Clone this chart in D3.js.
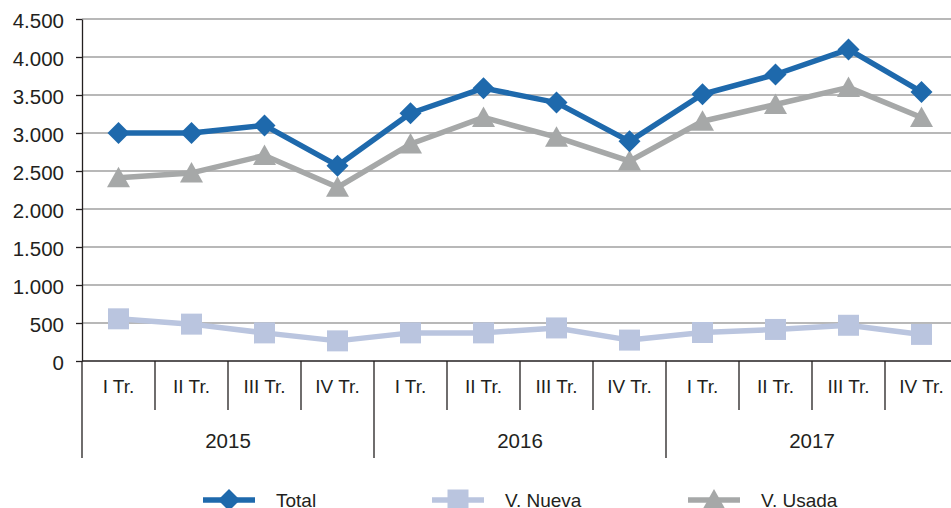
<!DOCTYPE html>
<html>
<head>
<meta charset="utf-8">
<script src="https://cdn.jsdelivr.net/npm/d3@7"></script>
<style>
  body { margin: 0; background: #fff; }
  svg text { font-family: "Liberation Sans", Arial, sans-serif; fill: #231f20; }
</style>
</head>
<body>
<svg id="chart" width="951" height="508"></svg>
<script>
const years = ["2015", "2016", "2017"];
const quarters = ["I Tr.", "II Tr.", "III Tr.", "IV Tr."];
const total = [3000, 3000, 3100, 2570, 3260, 3590, 3400, 2890, 3510, 3770, 4100, 3540];
const nueva = [555, 485, 370, 265, 370, 370, 435, 275, 375, 415, 470, 350];
const usada = [2410, 2475, 2705, 2285, 2855, 3205, 2945, 2630, 3155, 3375, 3600, 3205];
const yTicks = [0, 500, 1000, 1500, 2000, 2500, 3000, 3500, 4000, 4500];

const svg = d3.select("#chart");
const plotLeft = 82, plotRight = 958, plotTop = 19, plotBottom = 361;

const keys = [];
years.forEach(yr => quarters.forEach(q => keys.push(yr + "|" + q)));

const x = d3.scaleBand().domain(keys).range([plotLeft, plotRight]);
const y = d3.scaleLinear().domain([0, 4500]).range([plotBottom, plotTop]);
const fmt = v => d3.format(",")(v).replace(/,/g, ".");

// grid
svg.append("g")
  .selectAll("line")
  .data(yTicks.filter(d => d > 0))
  .enter()
  .append("line")
  .attr("x1", plotLeft)
  .attr("x2", 951)
  .attr("y1", d => y(d))
  .attr("y2", d => y(d))
  .attr("stroke", "#a0a0a0")
  .attr("stroke-width", 1.5);

// y axis
const yAxis = svg.append("g")
  .attr("transform", `translate(${plotLeft},0)`)
  .call(d3.axisLeft(y).tickValues(yTicks).tickFormat(fmt).tickSize(6).tickSizeOuter(0));
yAxis.select(".domain").attr("stroke", "#231f20").attr("stroke-width", 1.3);
yAxis.selectAll(".tick line").attr("stroke", "#231f20").attr("stroke-width", 1.3);
yAxis.selectAll(".tick text")
  .attr("x", -18)
  .attr("dy", "0.4em")
  .style("font-size", "20.5px")
  .style("font-family", "Liberation Sans, Arial, sans-serif")
  .attr("fill", "#231f20");

// x axis baseline
svg.append("line")
  .attr("x1", plotLeft).attr("x2", 951)
  .attr("y1", plotBottom).attr("y2", plotBottom)
  .attr("stroke", "#231f20").attr("stroke-width", 1.3);

// quarter separators
svg.append("g")
  .selectAll("line")
  .data(keys)
  .enter()
  .append("line")
  .attr("x1", d => x(d))
  .attr("x2", d => x(d))
  .attr("y1", plotBottom)
  .attr("y2", (d, i) => i % 4 === 0 ? 458 : 410)
  .attr("stroke", "#231f20")
  .attr("stroke-width", 1.3);

// quarter labels
svg.append("g")
  .selectAll("text")
  .data(keys)
  .enter()
  .append("text")
  .attr("x", d => x(d) + x.bandwidth() / 2)
  .attr("y", 393)
  .attr("text-anchor", "middle")
  .style("font-size", "19px")
  .text(d => d.split("|")[1]);

// year labels
svg.append("g")
  .selectAll("text")
  .data(years)
  .enter()
  .append("text")
  .attr("x", d => x(d + "|" + quarters[0]) + x.bandwidth() * 2)
  .attr("y", 448)
  .attr("text-anchor", "middle")
  .style("font-size", "20.5px")
  .text(d => d);

const series = [
  { name: "Total", values: total, color: "#1e69ac" },
  { name: "V. Nueva", values: nueva, color: "#bac5df" },
  { name: "V. Usada", values: usada, color: "#a6a8a8" }
];

const cx = i => x(keys[i]) + x.bandwidth() / 2;
const line = d3.line().x((d, i) => cx(i)).y(d => y(d));

function markerPath(sr) {
  if (sr.name === "Total") return "M0,-11L11,0L0,11L-11,0Z";
  if (sr.name === "V. Nueva") return "M-10.5,-10.5H10.5V10.5H-10.5Z";
  return "M0,-11L11.5,9.5H-11.5Z";
}

[series[1], series[2], series[0]].forEach(sr => {
  svg.append("path")
    .datum(sr.values)
    .attr("d", line)
    .attr("fill", "none")
    .attr("stroke", sr.color)
    .attr("stroke-width", 5.5)
    .attr("stroke-linejoin", "round");
  svg.append("g")
    .selectAll("path")
    .data(sr.values)
    .enter()
    .append("path")
    .attr("transform", (d, i) => `translate(${cx(i)},${y(d)})`)
    .attr("d", markerPath(sr))
    .attr("fill", sr.color);
});

// legend
const legendX = [203, 432, 688];
series.forEach((sr, i) => {
  const g = svg.append("g").attr("transform", `translate(${legendX[i]},500)`);
  g.append("line")
    .attr("x1", 0).attr("x2", 52)
    .attr("stroke", sr.color).attr("stroke-width", 5.5);
  g.append("path")
    .attr("transform", "translate(26,0)")
    .attr("d", markerPath(sr))
    .attr("fill", sr.color);
  g.append("text")
    .attr("x", 73)
    .attr("y", 7)
    .style("font-size", "19px")
    .text(sr.name);
});
</script>
</body>
</html>
